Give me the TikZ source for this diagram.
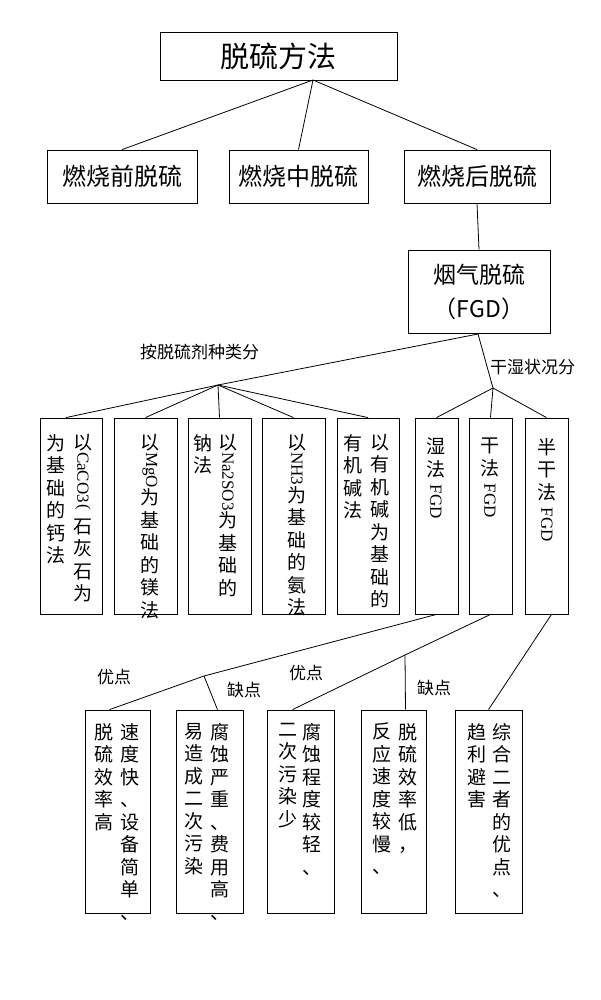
\documentclass[tikz,border=0pt]{standalone}
\usepackage{graphicx}
\usepackage{fontspec}
\setmainfont{Liberation Serif}
\newfontfamily\cjk{Noto Sans CJK SC}[Scale=1]
\newcommand\rl[1]{\rotatebox[origin=c]{-90}{\fontspec{Liberation Serif}\fontsize{17}{17}\selectfont #1}}
\begin{document}
\begin{tikzpicture}[x=1pt,y=-1pt,
  bx/.style={draw,line width=0.8pt,inner sep=0pt},
  col/.style={font=\cjk\fontsize{19}{22.5}\selectfont,align=center,inner sep=0pt,anchor=north,text width=21pt},
  lab/.style={font=\cjk\fontsize{17}{20}\selectfont,inner sep=0pt},
  ln/.style={line width=0.8pt}]
\useasboundingbox (0,0) rectangle (600,1000);
\fill[white] (0,0) rectangle (600,1000);
% top
\node[bx,minimum width=237pt,minimum height=48pt,font=\cjk\fontsize{29}{32}\selectfont] (top) at (278.5,56) {脱硫方法};
\node[bx,minimum width=150pt,minimum height=53pt,font=\cjk\fontsize{24}{28}\selectfont] (pre) at (122,176.5) {燃烧前脱硫};
\node[bx,minimum width=139pt,minimum height=53pt,font=\cjk\fontsize{24}{28}\selectfont] (mid) at (298.5,176.5) {燃烧中脱硫};
\node[bx,minimum width=146pt,minimum height=53pt,font=\cjk\fontsize{24}{28}\selectfont] (post) at (477,176.5) {燃烧后脱硫};
\coordinate (tb) at (313,80);
\draw[ln] (tb) -- (pre.north);
\draw[ln] (tb) -- (mid.north);
\draw[ln] (tb) -- (post.north);
\node[bx,minimum width=142pt,minimum height=83pt,align=center,font=\cjk\fontsize{23}{34}\selectfont] (fgd) at (479,291.5) {烟气脱硫\\（FGD）};
\draw[ln] (post.south) -- (fgd.north);
% second level boxes
\foreach \n/\a/\b in {b1/40/102,b2/114/177,b3/188/251,b4/262/325,b5/337/399,w/415/458,d/469/512,s/525/568}{
  \node[bx,minimum width={\b-\a},minimum height=196pt] (\n) at ({(\a+\b)/2},516) {};
}
\coordinate (fb) at (478,334);
\coordinate (hubL) at (218,385);
\coordinate (hubR) at (493,388);
\draw[ln] (fb) -- (hubL) -- ([xshift=-5pt]b1.north);
\foreach \n in {b2,b3,b4,b5}{\draw[ln] (hubL) -- (\n.north);}
\draw[ln] (fb) -- (hubR);
\foreach \n in {w,d,s}{\draw[ln] (hubR) -- (\n.north);}
\node[lab,anchor=west] (l1) at (140,352) {按脱硫剂种类分};
\node[lab,anchor=west] (l2) at (490,367) {干湿状况分};
% vertical texts
\node[col] (c1a) at (83,434) {以\\\rl{CaCO3}\\\rl{(}\\石\\灰\\石\\为};
\node[col] (c1b) at (56,434) {为\\基\\础\\的\\钙\\法};
\node[col] (c2) at (150,434) {以\\\rl{MgO}\\为\\基\\础\\的\\镁\\法};
\node[col] (c3a) at (228,434) {以\\\rl{Na2SO3}\\为\\基\\础\\的};
\node[col] (c3b) at (203,434) {钠\\法};
\node[col] (c4) at (297,434) {以\\\rl{NH3}\\为\\基\\础\\的\\氨\\法};
\node[col] (c5a) at (380,434) {以\\有\\机\\碱\\为\\基\\础\\的};
\node[col] (c5b) at (353,434) {有\\机\\碱\\法};
\node[col] (c6) at (436,438) {湿\\法\\[6pt]\rl{FGD}};
\node[col] (c7) at (490,438) {干\\法\\[6pt]\rl{FGD}};
\node[col] (c8) at (547,438) {半\\干\\法\\[6pt]\rl{FGD}};
% bottom boxes
\foreach \n/\a/\b in {e1/85/150,e2/176/243,e3/267/334,e4/361/426,e5/455/522}{
  \node[bx,minimum width={\b-\a},minimum height=203pt] (\n) at ({(\a+\b)/2},811.5) {};
}
\coordinate (k1) at (204,676);
\coordinate (k2) at (405,655);
\draw[ln] (w.south) -- (k1) -- ([xshift=-8pt]e1.north);
\draw[ln] (k1) -- ([xshift=8pt]e2.north);
\draw[ln] (d.south) -- (k2) -- ([xshift=-8pt]e3.north);
\draw[ln] (k2) -- ([xshift=12pt]e4.north);
\draw[ln] ([xshift=5pt]s.south) -- (e5.north);
\node[lab] (u1) at (114,677) {优点};
\node[lab] (q1) at (244,690) {缺点};
\node[lab] (u2) at (306,673) {优点};
\node[lab] (q2) at (434,688) {缺点};
\node[col] (d1a) at (130,723) {速\\度\\快\\、\\设\\备\\简\\单\\、};
\node[col] (d1b) at (104,723) {脱\\硫\\效\\率\\高};
\node[col] (d2a) at (220,723) {腐\\蚀\\严\\重\\、\\费\\用\\高\\、};
\node[col] (d2b) at (194,723) {易\\造\\成\\二\\次\\污\\染};
\node[col] (d3a) at (312,723) {腐\\蚀\\程\\度\\较\\轻\\、};
\node[col] (d3b) at (288,723) {二\\次\\污\\染\\少};
\node[col] (d4a) at (408,723) {脱\\硫\\效\\率\\低\\，};
\node[col] (d4b) at (382,723) {反\\应\\速\\度\\较\\慢\\、};
\node[col] (d5a) at (502,723) {综\\合\\二\\者\\的\\优\\点\\、};
\node[col] (d5b) at (477,723) {趋\\利\\避\\害};
\end{tikzpicture}
\end{document}
